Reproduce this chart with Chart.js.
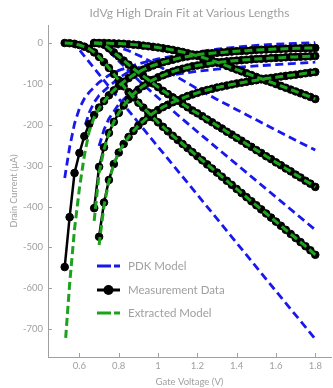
<!DOCTYPE html>
<html>
<head>
<meta charset="utf-8">
<script src="https://cdn.jsdelivr.net/npm/chart.js@4.4.0/dist/chart.umd.min.js"></script>
<style>
  html, body { margin: 0; padding: 0; background: #fff; overflow: hidden; }
  #wrap { width: 333px; height: 388px; overflow: hidden; }
</style>
</head>
<body>
<div id="wrap"><canvas id="ivChart" width="336" height="388"></canvas></div>
<script>
// gate voltage sweep (V)
const vGate = [0.525,0.55,0.575,0.6,0.625,0.65,0.675,0.7,0.725,0.75,
  0.775,0.8,0.825,0.85,0.875,0.9,0.925,0.95,0.975,1.0,
  1.025,1.05,1.075,1.1,1.125,1.15,1.175,1.2,1.225,1.25,
  1.275,1.3,1.325,1.35,1.375,1.4,1.425,1.45,1.475,1.5,
  1.525,1.55,1.575,1.6,1.625,1.65,1.675,1.7,1.725,1.75,
  1.775,1.8];
const vGate675 = vGate.slice(6);
const vGate700 = vGate.slice(7);
const vGateExt1 = [0.53].concat(vGate.slice(1));

// measurement data (uA)
const measA1 = [-548,-426,-318,-269,-228,-198,-176,-158,-142,-128,
  -116,-105,-95,-86,-78,-71,-65,-60,-55,-51,
  -47,-44,-41,-38,-35,-33,-31,-29,-27,-26,
  -25,-24,-23,-22,-21,-20,-19.5,-19,-18,-17,
  -16.5,-16,-15.5,-15,-14.5,-14,-13.5,-13,-13,-12.5,
  -12,-12];
const measA2 = [-404,-303,-255,-220,-193,-171,-153,-138,-125,-114,
  -105,-97,-90,-84,-79,-74,-70,-66,-63,-60,
  -57,-55,-53,-51,-49,-48,-46.5,-45,-44,-43,
  -42,-41,-40,-39,-38.5,-38,-37,-36.5,-36,-35,
  -34.5,-34,-33.5,-33,-32.5,-32];
const measA3 = [-474,-390,-335,-296,-268,-247,-230,-215,-202,-191,
  -181,-172,-164,-157,-151,-145,-140,-135,-130,-126,
  -122,-118,-115,-112,-109,-106.5,-104,-101.5,-99,-97,
  -95,-93,-91,-89,-87,-85.5,-84,-82,-80.5,-79,
  -77.5,-76,-74,-72.5,-71];
const measD1 = [0,-0.5,-2,-5,-9,-14,-23,-34,-47,-61,
  -76,-91,-106,-120,-133,-146,-158,-170,-182,-194,
  -205,-216,-227,-237,-247,-257,-267,-277,-287,-297,
  -307,-317,-327,-337,-347,-357,-367,-377,-387,-397,
  -407,-417,-427,-437,-447,-457,-467,-477,-487,-497,
  -507,-518];
const measD2 = [0,-1,-4,-13,-23,-33,-43,-53,-63,-72,
  -81,-90,-99,-108,-117,-125,-133,-141,-149,-157,
  -165,-172,-179,-187,-194,-202,-209,-217,-224,-232,
  -239,-247,-254,-262,-269,-277,-284,-292,-299,-307,
  -314,-322,-329,-337,-344,-352];
const measD3 = [0,0,0,-0.5,-1,-1.5,-2,-3,-4,-5,
  -6.5,-8,-9.5,-11,-13,-15,-17,-19.5,-22,-25,
  -28,-31.5,-35,-39,-43,-47,-51.5,-56,-60.5,-65,
  -69.5,-74,-78.5,-83,-87.5,-92,-96,-100.5,-105,-109.5,
  -114,-118.5,-123,-127.5,-132,-137];

// extracted model (uA) - only differs from data at the steep ends
const extA1 = [-721,-590,-455,-355,-275,-215,-182,-160,-143,-128,
  -116,-105,-95,-86,-78,-71,-65,-60,-55,-51,
  -47,-44,-41,-38,-35,-33,-31,-29,-27,-26,
  -25,-24,-23,-22,-21,-20,-19.5,-19,-18,-17,
  -16.5,-16,-15.5,-15,-14.5,-14,-13.5,-13,-13,-12.5,
  -12,-12];
const extA2 = [-435,-318,-260,-222,-193,-171,-153,-138,-125,-114,
  -105,-97,-90,-84,-79,-74,-70,-66,-63,-60,
  -57,-55,-53,-51,-49,-48,-46.5,-45,-44,-43,
  -42,-41,-40,-39,-38.5,-38,-37,-36.5,-36,-35,
  -34.5,-34,-33.5,-33,-32.5,-32];
const extA3 = [-494,-398,-338,-296,-268,-247,-230,-215,-202,-191,
  -181,-172,-164,-157,-151,-145,-140,-135,-130,-126,
  -122,-118,-115,-112,-109,-106.5,-104,-101.5,-99,-97,
  -95,-93,-91,-89,-87,-85.5,-84,-82,-80.5,-79,
  -77.5,-76,-74,-72.5,-71];

// PDK model (uA)
const pdkA1V = [0.525,0.535,0.55,0.575,0.6,0.625,0.65,0.7,0.75,0.8,0.9,1.0,1.1,1.2,1.3,1.4,1.5,1.6,1.7,1.8];
const pdkA1 = [-330,-300,-255,-197,-160,-136,-120,-96,-79,-67,-51,-39,-30,-22,-15,-10,-6,-3,-1,1];
const pdkA2V = [0.63,0.65,0.675,0.7,0.75,0.8,0.865,0.95,1.035,1.1,1.2,1.3,1.4,1.5,1.6,1.7,1.8];
const pdkA2 = [-200,-170,-145,-128,-106,-86,-66,-52,-42,-36,-29,-25,-22,-20,-19,-18,-17];
const pdkA3V = [0.7,0.725,0.75,0.8,0.85,0.9,0.95,1.0,1.1,1.2,1.3,1.4,1.5,1.6,1.7,1.8];
const pdkA3 = [-252,-212,-185,-150,-126,-108,-95,-86,-76,-69,-64,-60,-56,-53,-50,-47];
const pdkD1V = [0.55,0.575,0.6,0.625,0.65,0.7,0.8,1.0,1.2,1.4,1.6,1.8];
const pdkD1 = [-1,-8,-17,-32,-47,-77,-136,-254,-371,-489,-607,-724];
const pdkD2V = [0.7,0.725,0.75,0.8,0.9,1.0,1.1,1.2,1.3,1.4,1.5,1.6,1.7,1.8];
const pdkD2 = [-4,-11,-20,-44,-91,-134,-176,-217,-257,-297,-337,-377,-417,-457];
const pdkD3V = [0.7,0.75,0.8,0.85,0.9,0.95,1.0,1.1,1.2,1.3,1.4,1.5,1.6,1.7,1.8];
const pdkD3 = [-1,-4,-10,-19,-30,-42,-55,-84,-112,-138,-163,-188,-213,-238,-262];

const titleText = "IdVg High Drain Fit at Various Lengths";
const legendLabels = ["PDK Model", "Measurement Data", "Extracted Model"];

const GREY = "#a0a0a0";
const BLUE = "#1818ee";
const GREEN = "#1ca21c";

const pts = (xs, ys) => xs.map((x, i) => ({ x, y: ys[i] }));

const extStyle = { borderColor: GREEN, borderWidth: 3, borderDash: [8, 4], pointRadius: 0, fill: false };
const measStyle = { borderColor: "#000", borderWidth: 2.5, pointRadius: 3.8, pointBorderWidth: 1,
  pointBackgroundColor: "#000", pointBorderColor: "#000", fill: false };
const pdkStyle = { borderColor: BLUE, borderWidth: 2.8, borderDash: [8, 4.5], pointRadius: 0, fill: false };

const datasets = [
  { ...extStyle, data: pts(vGateExt1, extA1) },
  { ...extStyle, data: pts(vGate675, extA2) },
  { ...extStyle, data: pts(vGate700, extA3) },
  { ...extStyle, data: pts(vGate, measD1) },
  { ...extStyle, data: pts(vGate675, measD2) },
  { ...extStyle, data: pts(vGate675, measD3) },
  { ...measStyle, data: pts(vGate, measA1) },
  { ...measStyle, data: pts(vGate675, measA2) },
  { ...measStyle, data: pts(vGate700, measA3) },
  { ...measStyle, data: pts(vGate, measD1) },
  { ...measStyle, data: pts(vGate675, measD2) },
  { ...measStyle, data: pts(vGate675, measD3) },
  { ...pdkStyle, data: pts(pdkA1V, pdkA1) },
  { ...pdkStyle, data: pts(pdkA2V, pdkA2) },
  { ...pdkStyle, data: pts(pdkA3V, pdkA3) },
  { ...pdkStyle, data: pts(pdkD1V, pdkD1) },
  { ...pdkStyle, data: pts(pdkD2V, pdkD2) },
  { ...pdkStyle, data: pts(pdkD3V, pdkD3) },
];

// title, legend and inward tick marks
const extras = {
  id: "extras",
  afterDraw(chart) {
    const { ctx, chartArea: a, scales: { x, y } } = chart;
    ctx.save();
    ctx.strokeStyle = GREY;
    ctx.lineWidth = 1;
    x.ticks.forEach(t => {
      const px = Math.round(x.getPixelForValue(t.value)) + 0.5;
      ctx.beginPath(); ctx.moveTo(px, a.bottom); ctx.lineTo(px, a.bottom - 4); ctx.stroke();
    });
    y.ticks.forEach(t => {
      const py = Math.round(y.getPixelForValue(t.value)) + 0.5;
      ctx.beginPath(); ctx.moveTo(a.left, py); ctx.lineTo(a.left + 4, py); ctx.stroke();
    });

    ctx.fillStyle = GREY;
    ctx.font = "12px Lato";
    ctx.textAlign = "center";
    ctx.textBaseline = "middle";
    ctx.fillText(titleText, (a.left + a.right) / 2, 13);

    const lx = 97, lw = 23, tx = 128, rows = [266, 290, 313];
    ctx.font = "11.5px Lato";
    ctx.textAlign = "left";
    // PDK
    ctx.strokeStyle = BLUE; ctx.lineWidth = 3; ctx.setLineDash([14, 3]);
    ctx.beginPath(); ctx.moveTo(lx, rows[0]); ctx.lineTo(lx + lw, rows[0]); ctx.stroke();
    // measurement
    ctx.setLineDash([]);
    ctx.strokeStyle = "#000"; ctx.lineWidth = 3;
    ctx.beginPath(); ctx.moveTo(lx, rows[1]); ctx.lineTo(lx + lw, rows[1]); ctx.stroke();
    ctx.fillStyle = "#000";
    ctx.beginPath(); ctx.arc(lx + lw / 2, rows[1], 5, 0, Math.PI * 2); ctx.fill();
    // extracted
    ctx.strokeStyle = GREEN; ctx.lineWidth = 3; ctx.setLineDash([14, 3]);
    ctx.beginPath(); ctx.moveTo(lx, rows[2]); ctx.lineTo(lx + lw, rows[2]); ctx.stroke();
    ctx.setLineDash([]);
    ctx.fillStyle = GREY;
    legendLabels.forEach((l, i) => ctx.fillText(l, tx, rows[i]));
    ctx.restore();
  }
};

Chart.defaults.font.family = "Lato";
Chart.defaults.color = GREY;

new Chart(document.getElementById("ivChart").getContext("2d"), {
  type: "line",
  data: { datasets },
  options: {
    responsive: false,
    animation: false,
    devicePixelRatio: 1,
    layout: { padding: { top: 25, left: 0, right: 0, bottom: 0 } },
    plugins: { legend: { display: false }, tooltip: { enabled: false } },
    elements: { line: { tension: 0 } },
    scales: {
      x: {
        type: "linear",
        min: 0.44,
        max: 1.88,
        grid: { display: false, drawTicks: false },
        border: { display: true, color: GREY, width: 1 },
        ticks: { stepSize: 0.2, includeBounds: false, color: GREY, font: { size: 9.5 }, padding: 3,
          maxRotation: 0, callback: v => String(Math.round(v * 10) / 10) },
        afterBuildTicks: s => {
          s.ticks = s.ticks.filter(t => t.value > 0.5 && t.value < 1.85 &&
            Math.abs(t.value * 5 - Math.round(t.value * 5)) < 1e-6);
        },
        afterFit: s => { s.height = 31; },
        title: { display: true, text: "Gate Voltage (V)", color: GREY, font: { size: 9.5 }, padding: { top: 0, bottom: 0 } },
      },
      y: {
        type: "linear",
        min: -768,
        max: 44,
        grid: { display: false, drawTicks: false },
        border: { display: true, color: GREY, width: 1 },
        ticks: { stepSize: 100, includeBounds: false, color: GREY, font: { size: 9.5 }, padding: 5 },
        afterBuildTicks: s => {
          s.ticks = s.ticks.filter(t => t.value <= 0 && t.value >= -700 && t.value % 100 === 0);
        },
        afterFit: s => { s.width = 48; },
        title: { display: true, text: "Drain Current (µA)", color: GREY, font: { size: 9 }, padding: { top: 9, bottom: 0 } },
      },
    },
  },
  plugins: [extras],
});
</script>
</body>
</html>
